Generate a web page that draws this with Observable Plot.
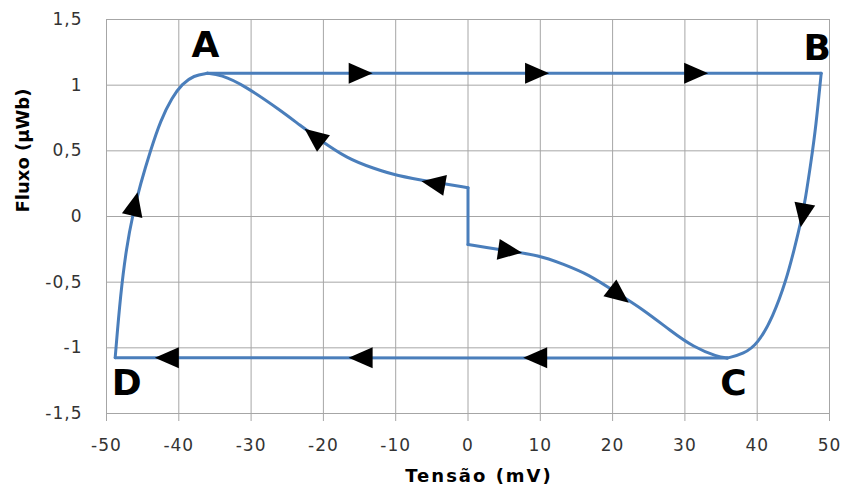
<!DOCTYPE html>
<html>
<head>
<meta charset="utf-8">
<script src="https://cdn.jsdelivr.net/npm/d3@7"></script>
<script src="https://cdn.jsdelivr.net/npm/@observablehq/plot@0.6"></script>
<style>
  body { margin: 0; background: #fff; }
  #chart g[aria-label="x-axis tick label"] text,
  #chart g[aria-label="y-axis tick label"] text { letter-spacing: 1px; }
</style>
</head>
<body>
<div id="chart"></div>
<script>
// Axis ticks
const xTicks = [-50, -40, -30, -20, -10, 0, 10, 20, 30, 40, 50];
const yTicks = [-1.5, -1, -0.5, 0, 0.5, 1, 1.5];

// Hysteresis loop, one array of [tensão mV, fluxo µWb] per branch
const leftBranch = [[-48.8, -1.075], [-48.06, -0.589], [-47.23, -0.234], [-46.4, 0.008], [-45.3, 0.249],
  [-43.91, 0.503], [-42.53, 0.731], [-40.91, 0.909], [-39.53, 1.01], [-37.93, 1.074], [-36.07, 1.09]];
const topBranch = [[-36.07, 1.09], [48.85, 1.09]];
const rightBranch = [[48.85, 1.09], [48.11, 0.68], [47.47, 0.426], [46.64, 0.122], [46.08, -0.03],
  [45.2, -0.234], [44.01, -0.487], [42.16, -0.767], [40.08, -0.97], [38.15, -1.046], [35.85, -1.078]];
const bottomBranch = [[35.85, -1.078], [-48.8, -1.075]];
const upperBranch = [[-36.07, 1.09], [-34.2, 1.08], [-31.0, 1.0], [-25.9, 0.807], [-23.2, 0.693],
  [-20.9, 0.6], [-16.7, 0.44], [-13.0, 0.366], [-10.0, 0.312], [-4.7, 0.261], [0, 0.219]];
const stepBranch = [[0, 0.219], [0, -0.213]];
const lowerBranch = [[0, -0.213], [4.0, -0.25], [10.0, -0.295], [13.0, -0.36], [16.7, -0.44],
  [20.5, -0.58], [24.3, -0.71], [28.0, -0.87], [31.2, -0.995], [34.5, -1.068], [35.85, -1.078]];

// Direction arrows: position and heading (degrees clockwise from up)
const arrowX = [-15.4, 9.0, 31.0, 46.4, 9.85, -14.3, -41.1, -46.2, -20.86, -4.26, 5.28, 20.5];
const arrowY = [1.09, 1.09, 1.09, 0.038, -1.075, -1.075, -1.075, 0.066, 0.594, 0.248, -0.259, -0.581];
const arrowHeading = [90, 90, 90, 190, -90, -90, -90, 13, -52, -80, 98, 128];

// Corner labels
const cornerNames = ["A", "B", "C", "D"];
const cornerX = [-36.3, 48.3, 36.7, -47.2];
const cornerY = [1.30, 1.283, -1.274, -1.274];

// outer loop D → A → B → C → D, and the inner S-curve through the origin
const branches = {
  left: leftBranch, top: topBranch, right: rightBranch, bottom: bottomBranch,
  upper: upperBranch, step: stepBranch, lower: lowerBranch
};
const path = Object.entries(branches).flatMap(([branch, pts]) =>
  pts.map(([x, y]) => ({branch, x, y})));
const arrows = arrowX.map((x, i) => ({x, y: arrowY[i], heading: arrowHeading[i]}));
const corners = cornerNames.map((name, i) => ({name, x: cornerX[i], y: cornerY[i]}));

// Narrow arrowhead pointing up; rotated per datum
const arrowHead = {
  draw(context, size) {
    const r = Math.sqrt(size / Math.PI);
    context.moveTo(0, -1.6 * r);
    context.lineTo(1.05 * r, 0.8 * r);
    context.lineTo(-1.05 * r, 0.8 * r);
    context.closePath();
  }
};

const comma = d => String(d).replace(".", ",");
const gridColor = "#a6a6a6";

const chart = Plot.plot({
  width: 846,
  height: 496,
  marginLeft: 106,
  marginRight: 17,
  marginTop: 19,
  marginBottom: 83,
  style: {fontFamily: "DejaVu Sans", fontSize: "17px", color: "#333", background: "#fff"},
  x: {domain: [-50, 50]},
  y: {domain: [-1.5, 1.5]},
  marks: [
    Plot.gridX(xTicks, {stroke: gridColor, strokeOpacity: 1}),
    Plot.gridY(yTicks, {stroke: gridColor, strokeOpacity: 1}),
    Plot.axisX(xTicks, {tickSize: 8, tickPadding: 17, stroke: gridColor, fill: "#333", label: null, tickFormat: comma}),
    Plot.axisY(yTicks, {tickSize: 0, tickPadding: 24, fill: "#333", label: null, tickFormat: comma}),
    Plot.line(path, {x: "x", y: "y", z: "branch", curve: "basis", stroke: "#4a7ebb", strokeWidth: 3}),
    Plot.dot(arrows, {x: "x", y: "y", rotate: "heading", symbol: arrowHead, r: 10, fill: "black", stroke: "none"}),
    Plot.text(corners, {x: "x", y: "y", text: "name", fontSize: 36, fontWeight: "bold", fill: "black", fontFamily: "DejaVu Sans"}),
    Plot.text(["Tensão (mV)"], {frameAnchor: "bottom", dx: 11, dy: 68, fontSize: 18, fontWeight: "bold", fill: "black"}),
    Plot.text(["Fluxo (µWb)"], {frameAnchor: "left", dx: -83, dy: -4, rotate: -90, fontSize: 18, fontWeight: "bold", fill: "black"})
  ]
});

chart.querySelectorAll("text").forEach(t => {
  if (t.textContent === "Tensão (mV)") t.setAttribute("letter-spacing", "2");
});

document.getElementById("chart").appendChild(chart);
</script>
</body>
</html>
